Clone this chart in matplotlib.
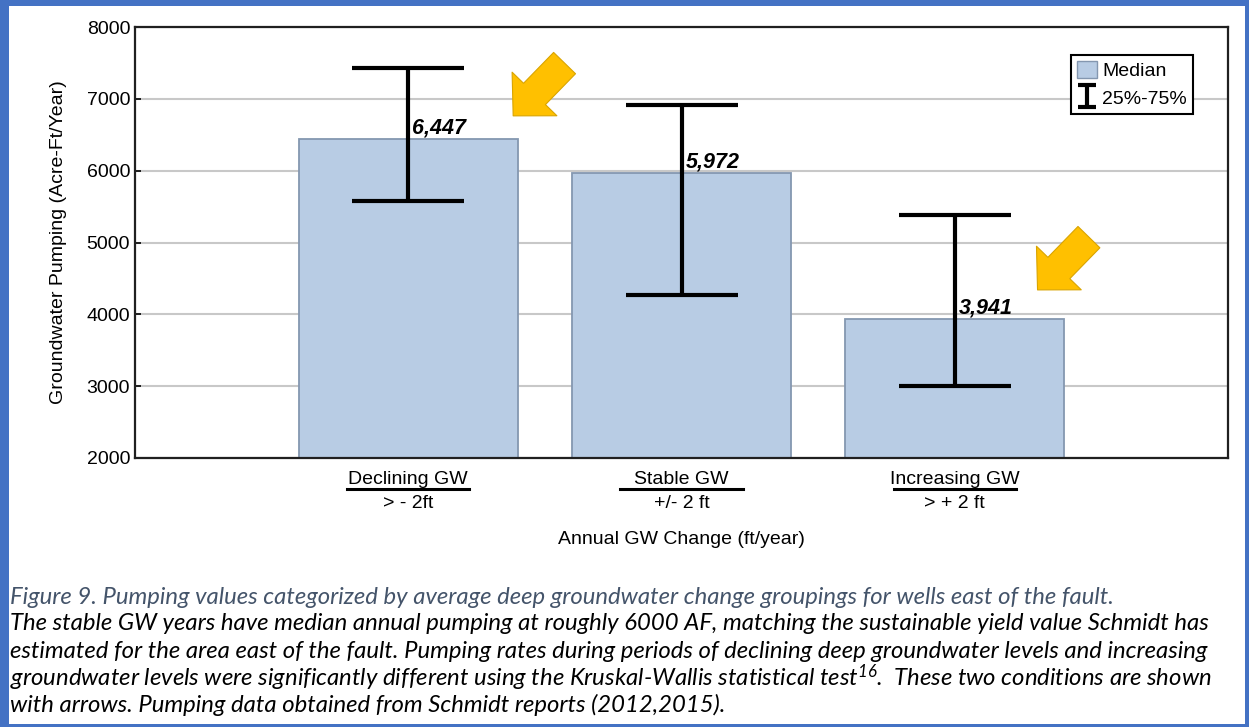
import numpy as np
import matplotlib
matplotlib.use("Agg")
import matplotlib.pyplot as plt
from matplotlib.patches import Rectangle, Patch
from matplotlib.lines import Line2D
from matplotlib.path import Path

plt.rcParams["font.family"] = "Liberation Sans"
plt.rcParams["mathtext.fontset"] = "custom"
plt.rcParams["mathtext.rm"] = "Lato:italic"
plt.rcParams["mathtext.it"] = "Lato:italic"

# data
groups = ["Declining GW", "Stable GW", "Increasing GW"]
ranges = ["> - 2ft", "+/- 2 ft", "> + 2 ft"]
medians = [6447, 5972, 3941]
q25 = [5580, 4270, 3000]
q75 = [7430, 6910, 5380]
yticks = [2000, 3000, 4000, 5000, 6000, 7000, 8000]

caption = [
    "Figure 9. Pumping values categorized by average deep groundwater change groupings for wells east of the fault.",
    "The stable GW years have median annual pumping at roughly 6000 AF, matching the sustainable yield value Schmidt has",
    "estimated for the area east of the fault. Pumping rates during periods of declining deep groundwater levels and increasing",
    "groundwater levels were significantly different using the Kruskal-Wallis statistical test$^{16}$.  These two conditions are shown",
    "with arrows. Pumping data obtained from Schmidt reports (2012,2015).",
]

W, H = 1249, 727
fig = plt.figure(figsize=(W / 100, H / 100), dpi=100)
ax = fig.add_axes([135 / W, 1 - 458 / H, (1228 - 135) / W, (458 - 27) / H])

x = np.arange(len(groups))
med = np.array(medians)
lo = med - np.array(q25)
hi = np.array(q75) - med

ax.bar(x, med - 2000, bottom=2000, width=0.8, color="#b8cce4",
       edgecolor="#8497b0", linewidth=1.3, zorder=2)
ax.errorbar(x, med, yerr=[lo, hi], fmt="none", ecolor="black",
            elinewidth=3, capsize=40, capthick=3, zorder=3)

for xi, m in zip(x, medians):
    ax.annotate(f"{m:,}", xy=(xi, m), xytext=(3, 4), textcoords="offset points",
                ha="left", va="baseline", fontsize=15.5, fontweight="bold",
                fontstyle="italic", zorder=4)

# yellow arrows
for tip in [(0.384, 6763), (2.303, 4340)]:
    ax.annotate("", xy=tip, xytext=(37, 38), textcoords="offset points",
                arrowprops=dict(arrowstyle="simple,head_length=2.2,head_width=4.5,tail_width=2.2",
                                mutation_scale=10, fc="#ffc000", ec="#d9a400",
                                lw=0.8, shrinkA=0, shrinkB=0), zorder=5)

ax.set_xlim(-1, 3)
ax.set_ylim(2000, 8000)
ax.set_yticks(yticks)
ax.set_yticklabels([str(t) for t in yticks], fontsize=14)
ax.set_xticks(x)
ax.set_xticklabels([])
ax.tick_params(axis="both", direction="in", length=4, width=1.2)
ax.yaxis.grid(True, color="#c8c8c8", linewidth=1.5, zorder=0)
ax.set_axisbelow(True)
for s in ax.spines.values():
    s.set_linewidth(1.6)
    s.set_color("#202020")

# category labels with underline
tr = ax.get_xaxis_transform()
for xi, g, r in zip(x, groups, ranges):
    ax.text(xi, -0.051, g, transform=tr, ha="center", va="center", fontsize=14)
    ax.plot([xi - 0.224, xi + 0.224], [-0.073, -0.073], transform=tr,
            color="black", lw=2.2, clip_on=False)
    ax.text(xi, -0.106, r, transform=tr, ha="center", va="center", fontsize=14)

ax.text(0.5, -0.19, "Annual GW Change (ft/year)", transform=ax.transAxes,
        ha="center", va="center", fontsize=14)
ax.text(-0.0704, 0.5, "Groundwater Pumping (Acre-Ft/Year)", transform=ax.transAxes,
        ha="center", va="center", rotation=90, fontsize=14)

# legend
ibeam = Path([(-0.8, -1), (0.8, -1), (0, -1), (0, 1), (-0.8, 1), (0.8, 1)],
             [Path.MOVETO, Path.LINETO, Path.MOVETO, Path.LINETO, Path.MOVETO, Path.LINETO])
handles = [Patch(facecolor="#b8cce4", edgecolor="#8497b0", linewidth=1.0),
           Line2D([], [], ls="none", marker=ibeam, ms=16, mec="black", mew=3)]
leg = ax.legend(handles, ["Median", "25%-75%"], loc="upper right",
                bbox_to_anchor=(0.968, 0.935), borderaxespad=0, fontsize=14,
                frameon=True, fancybox=False, edgecolor="black", framealpha=1,
                handlelength=1.0, handleheight=0.95, handletextpad=0.3,
                labelspacing=0.45, borderpad=0.3)
leg.get_frame().set_linewidth(1.5)

# caption
cap_y = [597, 624, 651, 678, 705]
for i, (line, yy) in enumerate(zip(caption, cap_y)):
    fig.text(10 / W, 1 - yy / H, line, ha="left", va="center", fontsize=17.2,
             family="Lato", style="italic",
             color="#44546a" if i == 0 else "black")

# blue page border
bc = "#4472c4"
for (x0, y0, w, h) in [(0, 0, 9, H), (0, 0, W, 6), (W - 4, 0, 4, H), (0, H - 3, W, 3)]:
    fig.add_artist(Rectangle((x0 / W, 1 - (y0 + h) / H), w / W, h / H,
                             transform=fig.transFigure, color=bc, lw=0))

fig.savefig("out.png", dpi=100)
